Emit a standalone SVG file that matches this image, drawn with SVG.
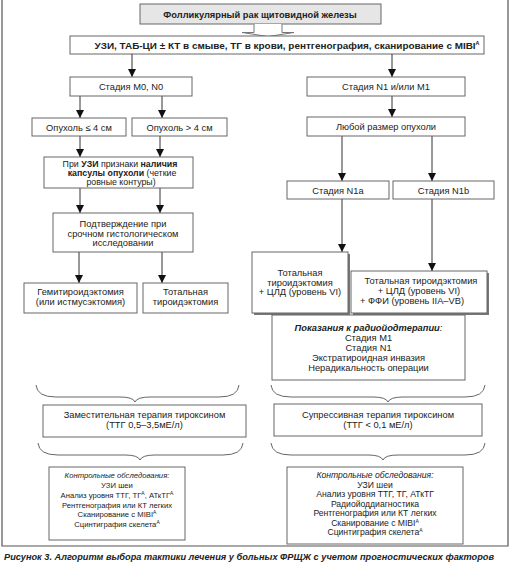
<svg xmlns="http://www.w3.org/2000/svg" width="510" height="567" viewBox="0 0 510 567">
<style>
text{font-family:"Liberation Sans",Arial,sans-serif;font-size:9.3px;fill:#222;text-anchor:middle}
.b{font-weight:bold}
.bi{font-weight:bold;font-style:italic}
.i{font-style:italic}
.sm{font-size:7.7px}
.md{font-size:8.6px}
.cap{font-size:8.8px}
.box{fill:#fff;stroke:#666;stroke-width:1}
.sh{fill:#777;stroke:none}
.ln{stroke:#333;stroke-width:1;fill:none}
.br{stroke:#555;stroke-width:0.9;fill:none}
.sup{font-size:5px}
</style>
<defs>
<marker id="ah" viewBox="0 0 8 8" refX="8" refY="4" markerWidth="8" markerHeight="8" markerUnits="userSpaceOnUse" orient="auto">
<path d="M0,0 L8,4 L0,8 z" fill="#111"/>
</marker>
</defs>
<rect width="510" height="567" fill="#fff"/>
<path d="M2,0 V546 H508 V0" fill="none" stroke="#555" stroke-width="1.2"/>

<g id="title">
<rect x="140" y="4" width="241" height="20" fill="#e6e6e6" stroke="#666"/>
<text x="260" y="17.5" class="b">Фолликулярный рак щитовидной железы</text>
</g>
<g id="block-arrow">
<path d="M254,24 V32.5 H242 L268,36.5 L294,32.5 H282 V24" fill="#fff" stroke="#777" stroke-width="1"/>
</g>
<g id="exam">
<rect class="box" x="70" y="36" width="414" height="18"/>
<text x="287" y="48.5" class="b" textLength="385" lengthAdjust="spacingAndGlyphs">УЗИ, ТАБ-ЦИ ± КТ в смыве, ТГ в крови, рентгенография, сканирование с MIBI<tspan class="sup" dy="-3.5">А</tspan></text>
</g>

<g id="connectors">
<line class="ln" x1="132" y1="54" x2="132" y2="77" marker-end="url(#ah)"/>
<line class="ln" x1="392" y1="54" x2="392" y2="77" marker-end="url(#ah)"/>
<line class="ln" x1="80" y1="96" x2="80" y2="118" marker-end="url(#ah)"/>
<line class="ln" x1="162" y1="96" x2="162" y2="118" marker-end="url(#ah)"/>
<line class="ln" x1="80" y1="136" x2="80" y2="157" marker-end="url(#ah)"/>
<line class="ln" x1="160" y1="136" x2="160" y2="157" marker-end="url(#ah)"/>
<line class="ln" x1="80" y1="188" x2="80" y2="213" marker-end="url(#ah)"/>
<line class="ln" x1="160" y1="188" x2="160" y2="213" marker-end="url(#ah)"/>
<line class="ln" x1="79" y1="252" x2="79" y2="283" marker-end="url(#ah)"/>
<line class="ln" x1="162" y1="252" x2="162" y2="283" marker-end="url(#ah)"/>
<line class="ln" x1="392" y1="96" x2="392" y2="117" marker-end="url(#ah)"/>
<line class="ln" x1="342" y1="136" x2="342" y2="181" marker-end="url(#ah)"/>
<line class="ln" x1="432" y1="136" x2="432" y2="181" marker-end="url(#ah)"/>
<line class="ln" x1="342" y1="199" x2="342" y2="252" marker-end="url(#ah)"/>
<line class="ln" x1="432" y1="199" x2="432" y2="271" marker-end="url(#ah)"/>
<path class="br" d="M36,385 Q37,397 56,397 L120,397 Q133,397 135,402 Q137,397 150,397 L219,397 Q238,397 239,385"/>
<path class="br" d="M38,443 Q39,455 58,455 L125,455 Q138,455 140,460 Q142,455 155,455 L223,455 Q242,455 243,443"/>
<path class="br" d="M271,385 Q272,397 291,397 L373,397 Q386,397 388,402 Q390,397 403,397 L465,397 Q484,397 485,385"/>
<path class="br" d="M271,443 Q272,455 291,455 L368,455 Q381,455 383,460 Q385,455 398,455 L465,455 Q484,455 485,443"/>
</g>

<g id="m0n0">
<rect class="box" x="70" y="77" width="122" height="19"/>
<text x="131" y="90">Стадия М0, N0</text>
</g>
<g id="tumor-le4">
<rect class="box" x="32" y="118" width="94" height="18"/>
<text x="79" y="130.5">Опухоль ≤ 4 см</text>
</g>
<g id="tumor-gt4">
<rect class="box" x="132" y="118" width="95" height="18"/>
<text x="179.5" y="130.5">Опухоль &gt; 4 см</text>
</g>
<g id="capsule">
<rect class="box" x="44" y="157" width="149" height="31"/>
<text x="120" y="167" class="cap">При <tspan class="b">УЗИ</tspan> признаки <tspan class="b">наличия</tspan></text>
<text x="122" y="176" class="cap"><tspan class="b">капсулы опухоли</tspan> (четкие</text>
<text x="121" y="185" class="cap">ровные контуры)</text>
</g>
<g id="confirm">
<rect class="box" x="53" y="213" width="140" height="39"/>
<text x="123" y="227">Подтверждение при</text>
<text x="123" y="236.5">срочном гистологическом</text>
<text x="123" y="246">исследовании</text>
</g>
<g id="hemi">
<rect class="box" x="24" y="283" width="113" height="30"/>
<text x="80.5" y="295">Гемитироидэктомия</text>
<text x="80.5" y="305">(или истмусэктомия)</text>
</g>
<g id="total-left">
<rect class="box" x="143" y="283" width="85" height="30"/>
<text x="185.5" y="295">Тотальная</text>
<text x="185.5" y="305">тироидэктомия</text>
</g>

<g id="n1m1">
<rect class="box" x="307" y="77" width="158" height="19"/>
<text x="386" y="90">Стадия N1 и/или M1</text>
</g>
<g id="anysize">
<rect class="box" x="307" y="117" width="158" height="19"/>
<text x="386" y="130">Любой размер опухоли</text>
</g>
<g id="n1a">
<rect class="box" x="287" y="181" width="102" height="18"/>
<text x="338" y="193.5">Стадия N1a</text>
</g>
<g id="n1b">
<rect class="box" x="393" y="181" width="101" height="18"/>
<text x="443.5" y="193.5">Стадия N1b</text>
</g>
<g id="total-cld">
<rect class="sh" x="254" y="254" width="96" height="61"/>
<rect class="box" x="252" y="252" width="96" height="61"/>
<text x="300" y="276">Тотальная</text>
<text x="300" y="285.5">тироидэктомия</text>
<text x="300" y="295">+ ЦЛД (уровень VI)</text>
</g>
<g id="total-cld-ffi">
<rect class="sh" x="353" y="273" width="136" height="42"/>
<rect class="box" x="351" y="271" width="136" height="42"/>
<text x="421" y="284">Тотальная тироидэктомия</text>
<text x="419" y="294">+ ЦЛД (уровень VI)</text>
<text x="412" y="304">+ ФФИ (уровень IIA–VB)</text>
</g>
<g id="indications">
<rect class="box" x="272" y="315" width="193" height="65"/>
<text x="368.5" y="331" class="bi">Показания к радиойодтерапии<tspan style="font-weight:normal">:</tspan></text>
<text x="368.5" y="341">Стадия М1</text>
<text x="368.5" y="351">Стадия N1</text>
<text x="368.5" y="361">Экстратироидная инвазия</text>
<text x="368.5" y="371">Нерадикальность операции</text>
</g>

<g id="replacement">
<rect class="box" x="43" y="405" width="203" height="32"/>
<text x="144.5" y="418">Заместительная терапия тироксином</text>
<text x="144.5" y="427.5">(ТТГ 0,5–3,5мЕ/л)</text>
</g>
<g id="suppressive">
<rect class="box" x="274" y="404" width="208" height="32"/>
<text x="378" y="418">Супрессивная терапия тироксином</text>
<text x="378" y="427.5">(ТТГ &lt; 0,1 мЕ/л)</text>
</g>
<g id="control-left">
<rect class="box" x="49" y="467" width="136" height="73"/>
<text x="117" y="478" class="i sm">Контрольные обследования:</text>
<text x="117" y="488" class="sm">УЗИ шеи</text>
<text x="117" y="497.5" class="sm">Анализ уровня ТТГ, ТГ<tspan class="sup" dy="-3">А</tspan><tspan dy="3">, АТкТГ</tspan><tspan class="sup" dy="-3">А</tspan></text>
<text x="117" y="507.5" class="sm">Рентгенография или КТ легких</text>
<text x="117" y="517" class="sm">Сканирование с MIBI<tspan class="sup" dy="-3">А</tspan></text>
<text x="117" y="527" class="sm">Сцинтиграфия скелета<tspan class="sup" dy="-3">А</tspan></text>
</g>
<g id="control-right">
<rect class="box" x="287" y="467" width="176" height="77"/>
<text x="375" y="478" class="i md">Контрольные обследования:</text>
<text x="375" y="487.5" class="md">УЗИ шеи</text>
<text x="375" y="497" class="md">Анализ уровня ТТГ, ТГ, АТкТГ</text>
<text x="375" y="506.5" class="md">Радиойоддиагностика</text>
<text x="375" y="516" class="md">Рентгенография или КТ легких</text>
<text x="375" y="525.5" class="md">Сканирование с MIBI<tspan class="sup" dy="-3">А</tspan></text>
<text x="375" y="535" class="md">Сцинтиграфия скелета<tspan class="sup" dy="-3">А</tspan></text>
</g>

<g id="caption">
<text x="4" y="559.5" class="bi" style="text-anchor:start;font-size:9px" textLength="490" lengthAdjust="spacingAndGlyphs">Рисунок 3. Алгоритм выбора тактики лечения у больных ФРЩЖ с учетом прогностических факторов</text>
</g>
</svg>
